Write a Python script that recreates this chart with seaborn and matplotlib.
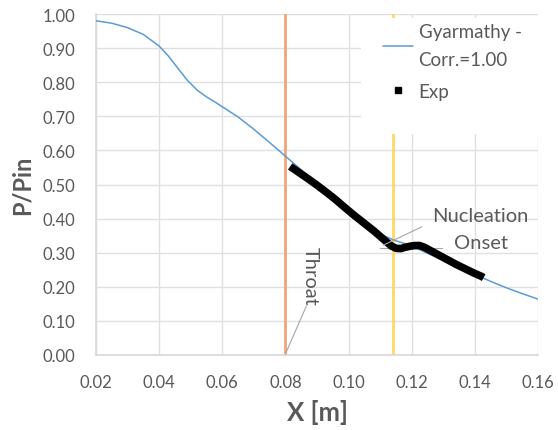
import matplotlib
matplotlib.use("Agg")
import matplotlib.pyplot as plt
import seaborn as sns
import pandas as pd
from matplotlib.patches import Rectangle

sns.set_theme(style="whitegrid")
plt.rcParams['font.family'] = ['Lato', 'DejaVu Sans']

# Model curve (Gyarmathy - Corr.=1.00)
model_x = [0.020, 0.025, 0.030, 0.035, 0.040, 0.043, 0.046, 0.049, 0.052, 0.055,
           0.058, 0.061, 0.065, 0.070, 0.075, 0.080, 0.085, 0.090, 0.095, 0.100,
           0.105, 0.110, 0.114, 0.118, 0.122, 0.126, 0.130, 0.135, 0.140, 0.145,
           0.150, 0.155, 0.160]
model_y = [0.980, 0.973, 0.960, 0.940, 0.906, 0.876, 0.840, 0.805, 0.777, 0.757,
           0.740, 0.722, 0.698, 0.662, 0.623, 0.583, 0.543, 0.503, 0.463, 0.425,
           0.388, 0.355, 0.338, 0.326, 0.311, 0.294, 0.277, 0.256, 0.236, 0.216,
           0.197, 0.180, 0.164]

# Experimental data
exp_x = [0.0815, 0.0840, 0.0870, 0.0900, 0.0930, 0.0960, 0.0990, 0.1020, 0.1050,
         0.1080, 0.1100, 0.1120, 0.1135, 0.1150, 0.1165, 0.1180, 0.1195, 0.1210,
         0.1225, 0.1240, 0.1260, 0.1280, 0.1300, 0.1320, 0.1340, 0.1360, 0.1380,
         0.1400, 0.1420, 0.1428]
exp_y = [0.553, 0.537, 0.518, 0.498, 0.477, 0.455, 0.431, 0.408, 0.386,
         0.364, 0.348, 0.332, 0.320, 0.313, 0.312, 0.316, 0.319, 0.321,
         0.321, 0.316, 0.306, 0.296, 0.286, 0.276, 0.266, 0.257, 0.248,
         0.239, 0.231, 0.227]

throat_x = 0.080
nucleation_x = 0.1142

x_ticks = [0.02, 0.04, 0.06, 0.08, 0.10, 0.12, 0.14, 0.16]
y_ticks = [0.0, 0.1, 0.2, 0.3, 0.4, 0.5, 0.6, 0.7, 0.8, 0.9, 1.0]

model_df = pd.DataFrame({"x": model_x, "y": model_y})
exp_df = pd.DataFrame({"x": exp_x, "y": exp_y})

gray = "#595959"
fig = plt.figure(figsize=(5.58, 4.31), dpi=100)
ax = fig.add_axes([96/558, 1-356/431, 442/558, 341/431])

ax.axvline(throat_x, color="#F0A57A", lw=2, zorder=2)
ax.axvline(nucleation_x, color="#FFD966", lw=2, zorder=2)

# white legend area
ax.add_patch(Rectangle(((361-96)/442, (356-135)/341), (538-361)/442, 1.0 - (356-135)/341 - 0.012,
                       transform=ax.transAxes, facecolor="white", edgecolor="none", zorder=3))

sns.lineplot(data=model_df, x="x", y="y", ax=ax, color="#5B9BD5", lw=1.1,
             label="Gyarmathy -\nCorr.=1.00", zorder=4)
sns.lineplot(data=exp_df, x="x", y="y", ax=ax, color="black", lw=5.5, zorder=5,
             legend=False, solid_capstyle="butt")
ax.plot([], [], ls="none", marker="s", color="black", markersize=4.3, label="Exp")

ax.set_xlim(0.02, 0.16)
ax.set_ylim(0, 1.0)
ax.set_xticks(x_ticks)
ax.set_yticks(y_ticks)
ax.set_xticklabels([f"{t:.2f}" for t in x_ticks])
ax.set_yticklabels([f"{t:.2f}" for t in y_ticks])
ax.tick_params(axis="both", labelsize=12, colors=gray, length=0)
ax.tick_params(axis="x", pad=14)
ax.tick_params(axis="y", pad=15)
ax.grid(True, color="#E0E0E0", lw=1)
for s in ax.spines.values():
    s.set_visible(False)
ax.spines["left"].set_visible(True)
ax.spines["bottom"].set_visible(True)
ax.spines["left"].set_color("#D9D9D9")
ax.spines["bottom"].set_color("#D9D9D9")

ax.set_xlabel("X [m]", fontsize=18.5, fontweight="bold", color=gray, labelpad=6)
ax.set_ylabel("P/Pin", fontsize=17, fontweight="bold", color=gray, labelpad=6)

leg = ax.legend(loc="upper left", bbox_to_anchor=((366-96)/442, 1.022), frameon=False,
                fontsize=13.5, labelcolor=gray, handlelength=1.6, labelspacing=0.8,
                handletextpad=0.3)
for t in leg.get_texts():
    t.set_linespacing(1.75)
leg.set_zorder(6)

# annotations
ax.text(0.0880, 0.234, "Throat", rotation=-90, fontsize=14.5, color=gray,
        ha="center", va="center", zorder=6)
ax.plot([0.0800, 0.0866], [0.003, 0.143], color="#A6A6A6", lw=0.8, zorder=6)

ax.text(0.1418, 0.410, "Nucleation", fontsize=14.5, color=gray, ha="center", va="center", zorder=6)
ax.text(0.1420, 0.330, "Onset", fontsize=14.5, color=gray, ha="center", va="center", zorder=6)
ax.plot([0.1232, 0.1110], [0.376, 0.322], color="#A6A6A6", lw=0.8, zorder=6)
ax.plot([0.1100, 0.1296], [0.313, 0.313], color="#A6A6A6", lw=0.8, zorder=4.5)

fig.savefig("out.png", dpi=100)
